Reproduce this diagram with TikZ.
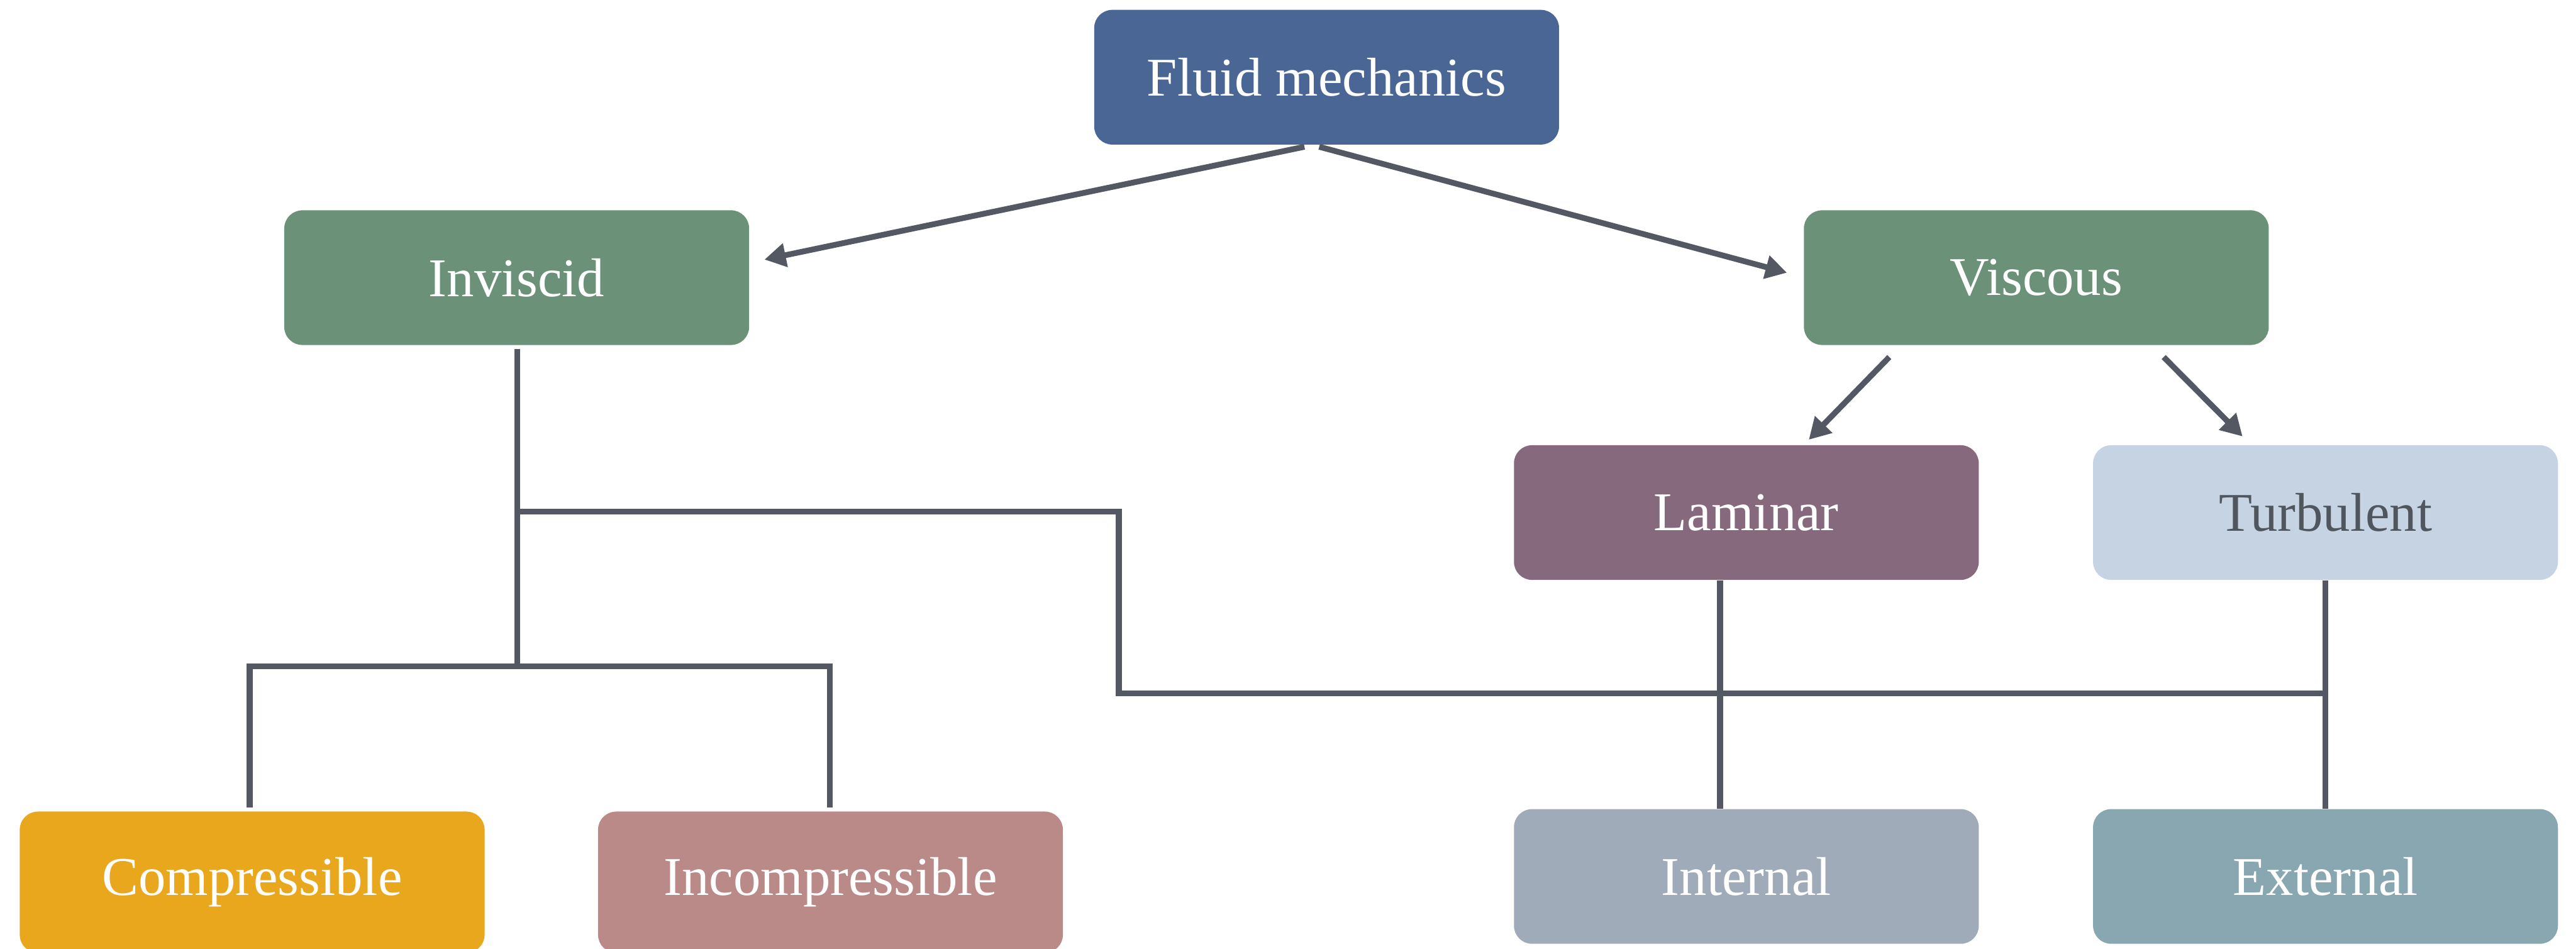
\documentclass[tikz,border=0pt]{standalone}
\usepackage{fontspec}
\setmainfont{Liberation Serif}
\usetikzlibrary{arrows.meta,calc}
\definecolor{cFM}{HTML}{4A6695}
\definecolor{cGreen}{HTML}{6B9279}
\definecolor{cLam}{HTML}{86697D}
\definecolor{cTurb}{HTML}{C5D3E2}
\definecolor{cTurbText}{HTML}{50565E}
\definecolor{cComp}{HTML}{E9A71E}
\definecolor{cIncomp}{HTML}{BA8A89}
\definecolor{cInt}{HTML}{A0ABBA}
\definecolor{cExt}{HTML}{89A7B1}
\definecolor{cLine}{HTML}{535862}
\tikzset{
  box/.style={draw=none, rounded corners=0.22cm, minimum width=5.66cm, minimum height=1.64cm,
    inner sep=0pt, text=white, font=\fontsize{18.9}{22}\selectfont},
  ln/.style={draw=cLine, line width=0.07cm, line join=miter},
  arr/.style={ln, -{Triangle[length=0.26cm,width=0.28cm]}}
}
\begin{document}
\begin{tikzpicture}[x=0.02cm,y=-0.02cm]
\clip (0,0) rectangle (1568,577.4);
\fill[white] (0,0) rectangle (1568,577.4);
\node[box,fill=cFM] (fm) at (807.5,47) {Fluid mechanics};
\node[box,fill=cGreen] (inv) at (314.5,169) {Inviscid};
\node[box,fill=cGreen] (visc) at (1239.5,169) {Viscous};
\node[box,fill=cLam] (lam) at (1063,312) {Laminar};
\node[box,fill=cTurb,text=cTurbText] (turb) at (1415.5,312) {Turbulent};
\node[box,fill=cComp,minimum height=1.72cm] (comp) at (153.5,537) {Compressible};
\node[box,fill=cIncomp,minimum height=1.72cm] (incomp) at (505.5,537) {Incompressible};
\node[box,fill=cInt] (int) at (1063,533.5) {Internal};
\node[box,fill=cExt] (ext) at (1415.5,533.5) {External};
% arrows
\draw[arr] ($(fm.south)+(-13.5,1)$) -- ($(inv.east)+(9,-11)$);
\draw[arr] ($(fm.south)+(-4.5,1)$) -- ($(visc.west)+(-10,-3)$);
\draw[arr] ($(visc.south)+(-89.5,7)$) -- ($(lam.north)+(38,-3)$);
\draw[arr] ($(visc.south)+(77.5,7)$) -- ($(turb.north)+(-50.5,-5)$);
% inviscid tree
\coordinate (jn) at ($(inv.south)+(0.5,101)$);
\coordinate (elbow) at (681,422);
\draw[ln] ($(inv.south)+(0.5,2)$) -- ($(inv.south)+(0.5,196)$);
\draw[ln] ($(comp.north)+(-1.5,-2)$) |- ($(incomp.north)+(-0.5,-88)$) -- ($(incomp.north)+(-0.5,-2)$);
\draw[ln] (jn) -| (elbow) -- (elbow -| turb.south);
% viscous tree
\draw[ln] ($(lam.south)+(-16,0)$) -- ($(int.north)+(-16,0)$);
\draw[ln] (turb.south) -- (ext.north);
\end{tikzpicture}
\end{document}
